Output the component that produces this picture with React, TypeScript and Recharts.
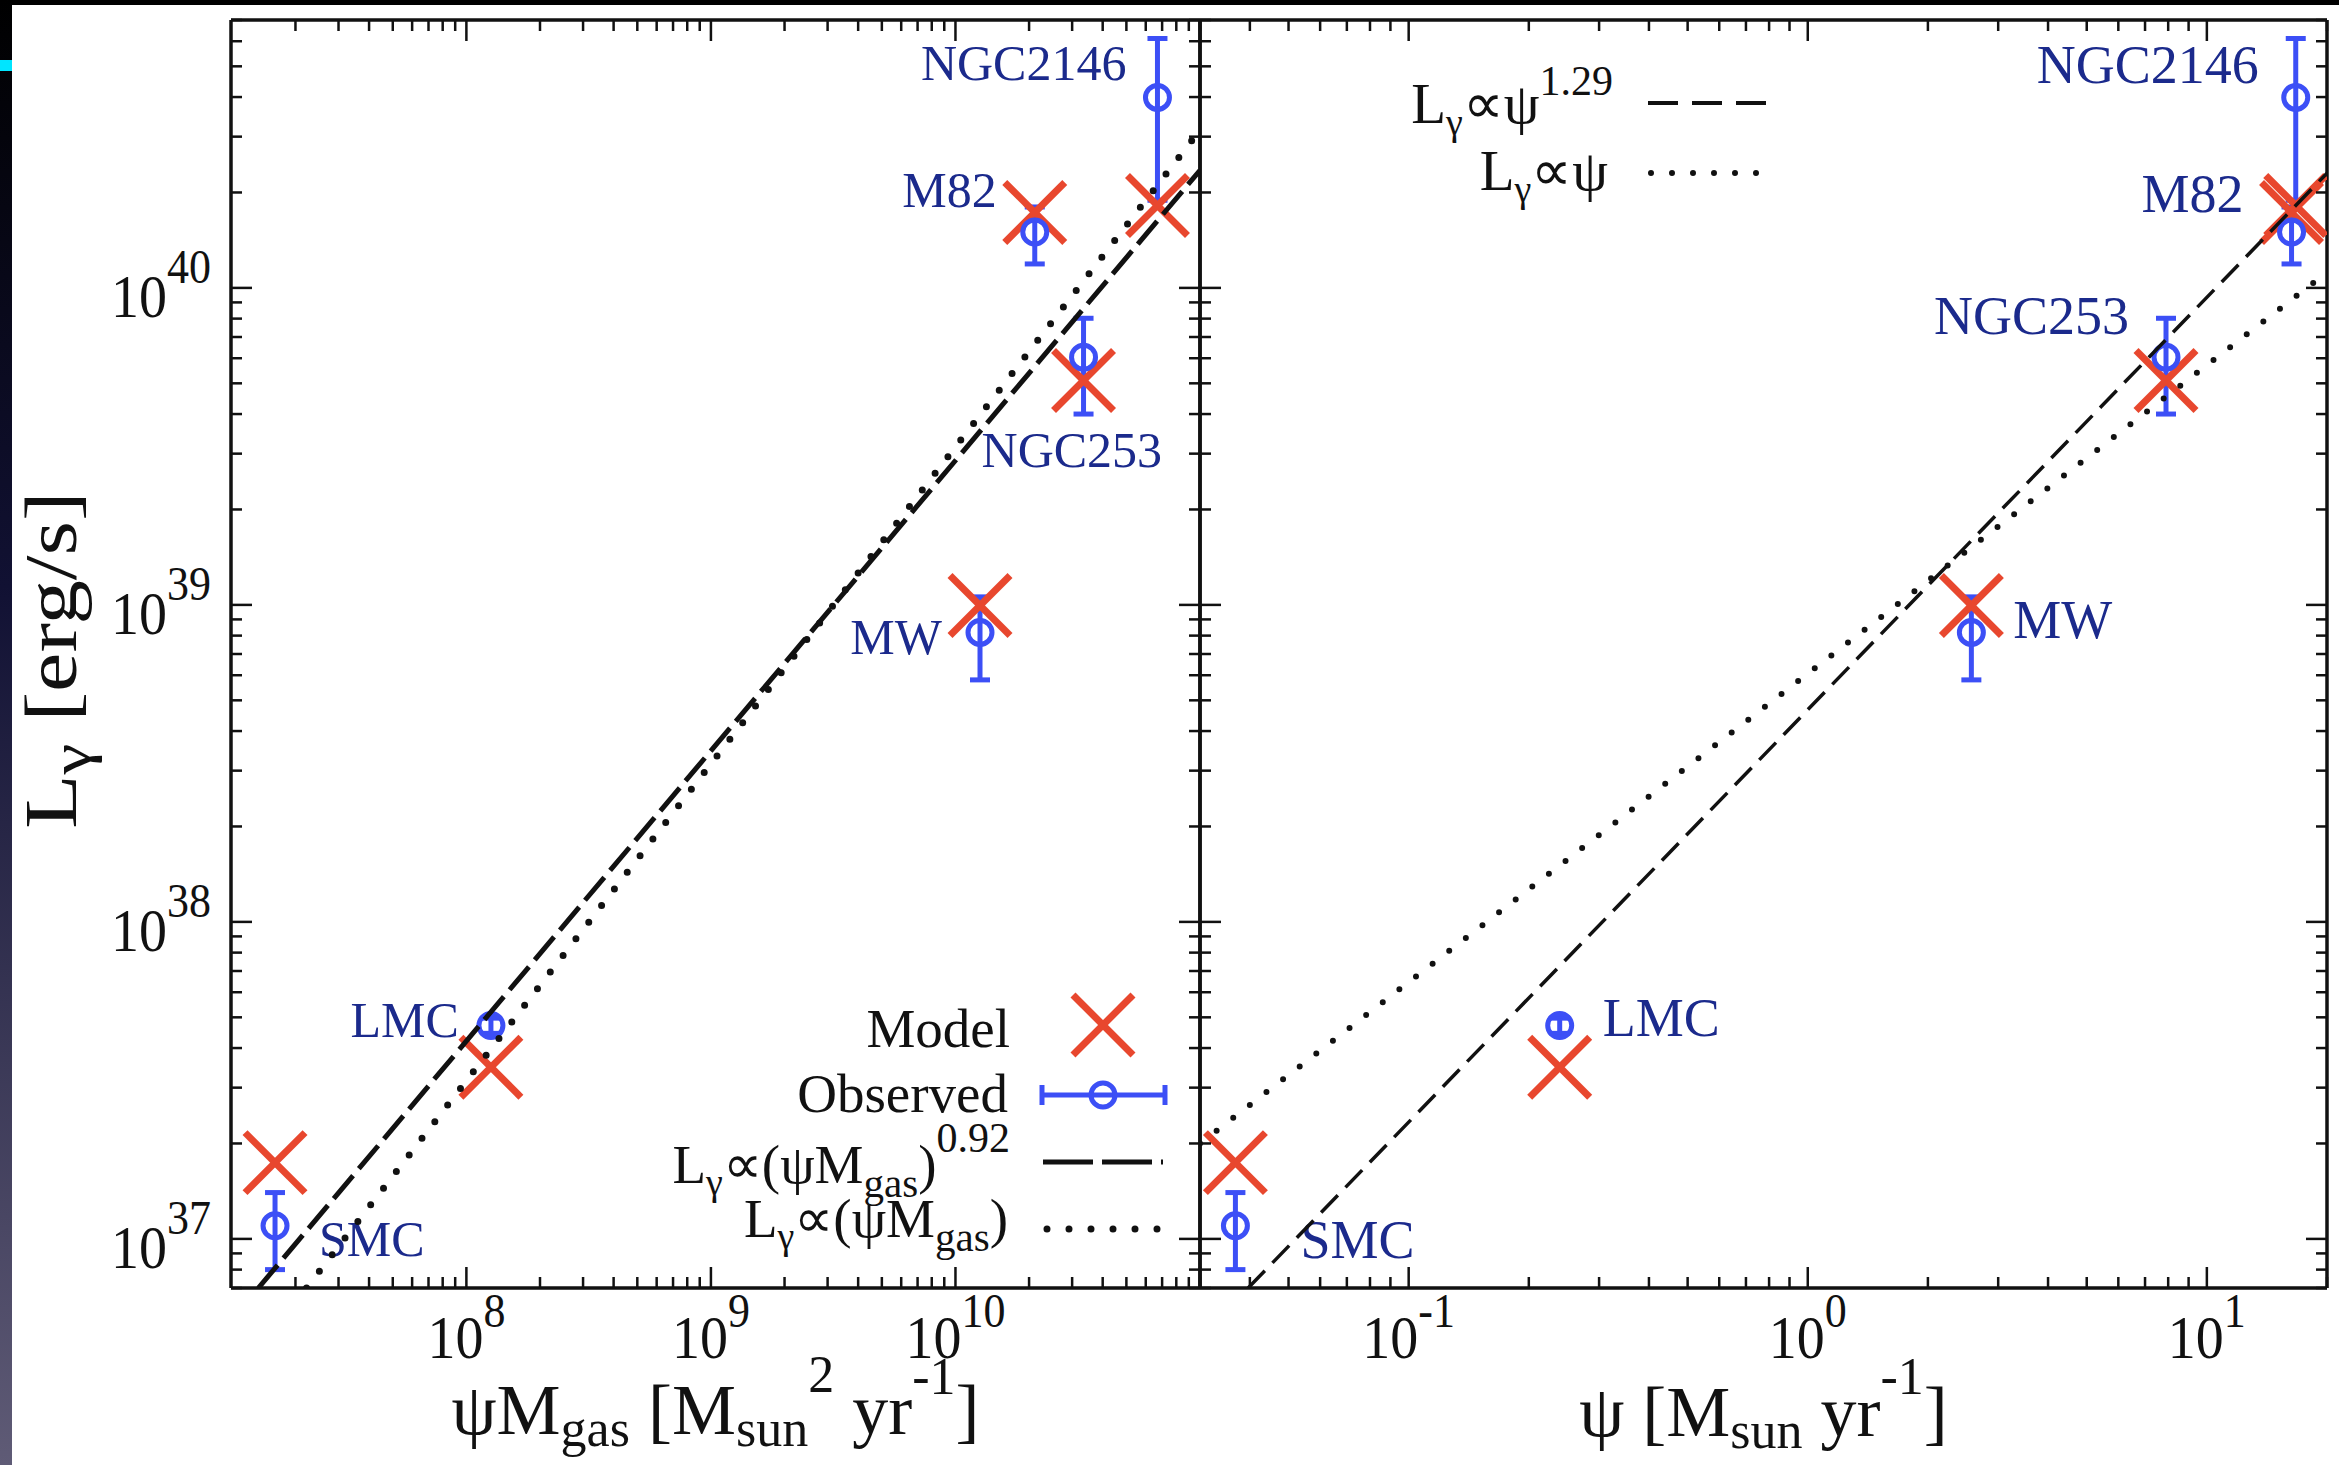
import React from 'react';
import { ComposedChart, Scatter, XAxis, YAxis, ErrorBar, Legend } from 'recharts';

const W = 2339;
const H = 1465;
const PLOT_TOP = 20;
const PLOT_BOTTOM = 1288;
const SERIF = '"Liberation Serif", "Times New Roman", Times, serif';
const RED = '#e8472e';
const BLUE = '#3c4ff6';
const NAVY = '#1b2a8c';
const INK = '#111';

// galaxies in the sample
const galaxies = ['SMC', 'LMC', 'MW', 'NGC253', 'M82', 'NGC2146'];
// psi * M_gas [Msun^2 yr^-1]
const psiMgas = [1.65e7, 1.26e8, 1.26e10, 3.34e10, 2.11e10, 6.7e10];
// psi [Msun yr^-1]
const psi = [0.0368, 0.239, 2.57, 7.9, 16.3, 16.7];
// observed gamma-ray luminosity [erg/s] and the ends of its error bar
const lObs = [1.1e37, 4.71e37, 8.19e38, 6.04e39, 1.5e40, 3.99e40];
const lObsLow = [8.0e36, 4.45e37, 5.8e38, 4.0e39, 1.19e40, 1.89e40];
const lObsHigh = [1.4e37, 4.97e37, 1.06e39, 8.02e39, 1.8e40, 6.12e40];
// model luminosity [erg/s]
const lModel = [1.74e37, 3.48e37, 9.96e38, 5.1e39, 1.73e40, 1.82e40];

// ends of the power-law lines
const gasFitX = [1.41e7, 1e11]; // L ~ (psi Mgas)^0.92
const gasFitY = [7e36, 2.35e40];
const gasLinX = [2.22e7, 1e11]; // L ~ psi Mgas
const gasLinY = [7e36, 3.15e40];
const sfrFitX = [0.0396, 20]; // L ~ psi^1.29
const sfrFitY = [7e36, 2.3e40];
const sfrLinX = [0.03, 20]; // L ~ psi
const sfrLinY = [2.0e37, 1.12e40];

const lumDomain = [7e36, 7e40];
const gasDomain = [1.09e7, 1e11];
const sfrDomain = [0.03, 20];

// where each galaxy name sits next to its observed point
const placeGas: Record<string, [number, number, string]> = {
  SMC: [44, 30, 'start'],
  LMC: [-32, 11, 'end'],
  MW: [-38, 22, 'end'],
  NGC253: [-102, 110, 'start'],
  M82: [-38, -25, 'end'],
  NGC2146: [-31, -17, 'end'],
};
const placeSfr: Record<string, [number, number, string]> = {
  SMC: [65, 32, 'start'],
  LMC: [43, 10, 'start'],
  MW: [42, 6, 'start'],
  NGC253: [-37, -23, 'end'],
  M82: [-48, -20, 'end'],
  NGC2146: [-37, -14, 'end'],
};

const logTicks = ([lo, hi]: number[]) => {
  const out: number[] = [];
  for (let e = Math.floor(Math.log10(lo)); e <= Math.ceil(Math.log10(hi)); e++) {
    for (let m = 1; m <= 9; m++) {
      const v = m * Math.pow(10, e);
      if (v >= lo * 0.999 && v <= hi * 1.001) out.push(v);
    }
  }
  return out;
};
const expOf = (v: number) => Math.round(Math.log10(v));
const isMajor = (v: number) => Math.abs(v / Math.pow(10, expOf(v)) - 1) < 1e-6;

const makeTick = (side: string, labelled: number[] = []) => (p: any) => {
  const { x, y } = p;
  const v = p.payload.value;
  const len = isMajor(v) ? 21 : 11;
  const e = expOf(v);
  const d =
    side === 'bottom' ? [0, -len] : side === 'top' ? [0, len] : side === 'left' ? [len, 0] : [-len, 0];
  let label = null;
  if (isMajor(v) && labelled.includes(e)) {
    if (side === 'bottom') {
      label = (
        <text transform={`translate(${x},${y + 70}) scale(1,1.1)`} textAnchor="middle"
          fontFamily={SERIF} fontSize={56} fill={INK}>
          10<tspan dy={-28} fontSize={44}>{e}</tspan>
        </text>
      );
    } else {
      label = (
        <text transform={`translate(${x - 20},${y + 29}) scale(1,1.1)`} textAnchor="end"
          fontFamily={SERIF} fontSize={56} fill={INK}>
          10<tspan dy={-31} fontSize={44}>{e}</tspan>
        </text>
      );
    }
  }
  return (
    <g>
      <line x1={x} y1={y} x2={x + d[0]} y2={y + d[1]} stroke={INK} strokeWidth={2.5} />
      {label}
    </g>
  );
};

const Cross = ({ cx, cy }: any) => {
  const s = 30;
  return (
    <g stroke={RED} strokeWidth={7}>
      <line x1={cx - s} y1={cy - s} x2={cx + s} y2={cy + s} />
      <line x1={cx - s} y1={cy + s} x2={cx + s} y2={cy - s} />
    </g>
  );
};
const Ring = ({ cx, cy }: any) => (
  <circle cx={cx} cy={cy} r={12} fill="none" stroke={BLUE} strokeWidth={5} />
);
const noShape = () => <g />;
const nameShape = (place: Record<string, [number, number, string]>, size: number) => (p: any) => {
  const [dx, dy, anchor] = place[p.payload.name];
  return (
    <text x={p.cx + dx} y={p.cy + dy} textAnchor={anchor as any} fontFamily={SERIF}
      fontSize={size} fill={NAVY}>
      {p.payload.name}
    </text>
  );
};

const GasTitle = ({ vb }: any) => (
  <text x={vb.x + vb.width / 2} y={PLOT_BOTTOM + 146} textAnchor="middle" fontFamily={SERIF}
    fontSize={72} fill={INK}>
    ψM<tspan dy={12} fontSize={52}>gas</tspan>
    <tspan dy={-12}> [M</tspan>
    <tspan dy={12} fontSize={52}>sun</tspan>
    <tspan dy={-54} fontSize={52}>2</tspan>
    <tspan dy={42}> yr</tspan>
    <tspan dy={-40} fontSize={52}>-1</tspan>
    <tspan dy={40}>]</tspan>
  </text>
);
const SfrTitle = ({ vb }: any) => (
  <text x={vb.x + vb.width / 2} y={PLOT_BOTTOM + 148} textAnchor="middle" fontFamily={SERIF}
    fontSize={72} fill={INK}>
    ψ [M<tspan dy={12} fontSize={52}>sun</tspan>
    <tspan dy={-12}> yr</tspan>
    <tspan dy={-42} fontSize={52}>-1</tspan>
    <tspan dy={42}>]</tspan>
  </text>
);
const LumTitle = () => (
  <text transform={`translate(76,660) rotate(-90) scale(1.2,1)`}
    textAnchor="middle" fontFamily={SERIF} fontSize={74} fill={INK}>
    L<tspan dy={14} fontSize={58}>γ</tspan>
    <tspan dy={-14}> [erg/s]</tspan>
  </text>
);

const GasLegend = () => (
  <svg width={W} height={H} style={{ position: 'absolute', left: 0, top: 0, overflow: 'visible' }}>
    <g fontFamily={SERIF} fontSize={55} fill={INK} textAnchor="end">
      <text x={1010} y={1047}>Model</text>
      <text x={1008} y={1112}>Observed</text>
      <text x={1010} y={1183}>
        L<tspan dy={12} fontSize={38}>γ</tspan>
        <tspan dy={-12}>∝(ψM</tspan>
        <tspan dy={14} fontSize={41}>gas</tspan>
        <tspan dy={-14}>)</tspan>
        <tspan dy={-31} fontSize={42}>0.92</tspan>
      </text>
      <text x={1008} y={1237}>
        L<tspan dy={12} fontSize={38}>γ</tspan>
        <tspan dy={-12}>∝(ψM</tspan>
        <tspan dy={14} fontSize={41}>gas</tspan>
        <tspan dy={-14}>)</tspan>
      </text>
    </g>
    <Cross cx={1103} cy={1025} />
    <g stroke={BLUE} strokeWidth={5} fill="none">
      <line x1={1042} y1={1095} x2={1165} y2={1095} />
      <line x1={1042} y1={1085} x2={1042} y2={1105} />
      <line x1={1165} y1={1085} x2={1165} y2={1105} />
      <circle cx={1103} cy={1095} r={12} />
    </g>
    <line x1={1043} y1={1162} x2={1163} y2={1162} stroke={INK} strokeWidth={5} strokeDasharray="50 9" />
    <line x1={1047} y1={1229} x2={1160} y2={1229} stroke={INK} strokeWidth={7}
      strokeLinecap="round" strokeDasharray="0 22" />
  </svg>
);

const SfrLegend = () => (
  <svg width={W} height={H} style={{ position: 'absolute', left: 0, top: 0, overflow: 'visible' }}>
    <g fontFamily={SERIF} fontSize={57} fill={INK} textAnchor="end">
      <text x={1613} y={123}>
        L<tspan dy={12} fontSize={38}>γ</tspan>
        <tspan dy={-12}>∝ψ</tspan>
        <tspan dy={-28} fontSize={42}>1.29</tspan>
      </text>
      <text x={1608} y={190}>
        L<tspan dy={12} fontSize={38}>γ</tspan>
        <tspan dy={-12}>∝ψ</tspan>
      </text>
    </g>
    <line x1={1648} y1={103} x2={1766} y2={103} stroke={INK} strokeWidth={4} strokeDasharray="30 14" />
    <line x1={1651} y1={173} x2={1766} y2={173} stroke={INK} strokeWidth={6}
      strokeLinecap="round" strokeDasharray="0 21" />
  </svg>
);

type Fit = { xs: number[]; ys: number[]; dash: string; width: number; round?: boolean };

function Panel(props: {
  xs: number[];
  xDomain: number[];
  xLabels: number[];
  yLabels: number[];
  left: number;
  right: number;
  place: Record<string, [number, number, string]>;
  nameSize: number;
  fits: Fit[];
  Title: any;
  YTitle?: any;
  LegendArt: any;
}) {
  const { xs, xDomain, xLabels, yLabels, left, right, place, nameSize, fits, Title, YTitle, LegendArt } = props;
  // axes are 1px thick, so the margins give them that pixel back
  const margin = { top: PLOT_TOP - 1, bottom: H - PLOT_BOTTOM - 1, left: left - 1, right: W - right - 1 };
  const xTicks = logTicks(xDomain);
  const yTicks = logTicks(lumDomain);
  const frame = { stroke: INK, strokeWidth: 3.5 };
  const obs = galaxies.map((name, i) => ({
    name,
    x: xs[i],
    y: lObs[i],
    err: [lObs[i] - lObsLow[i], lObsHigh[i] - lObs[i]],
  }));
  const model = galaxies.map((name, i) => ({ name, x: xs[i], y: lModel[i] }));
  const axisCommon = { type: 'number' as const, scale: 'log' as const, allowDataOverflow: true, interval: 0 as const, tickSize: 0, tickMargin: 0, tickLine: false, axisLine: frame };

  return (
    <ComposedChart width={W} height={H} margin={margin}>
      <XAxis {...axisCommon} dataKey="x" domain={xDomain} ticks={xTicks} height={1}
        tick={makeTick('bottom', xLabels)}
        label={{ content: (p: any) => <Title vb={p.viewBox} /> }} />
      <XAxis {...axisCommon} xAxisId="top" orientation="top" dataKey="x" domain={xDomain}
        ticks={xTicks} height={1} tick={makeTick('top')} />
      <YAxis {...axisCommon} dataKey="y" domain={lumDomain} ticks={yTicks} width={1}
        tick={makeTick('left', yLabels)}
        label={YTitle ? { content: () => <YTitle /> } : undefined} />
      <YAxis {...axisCommon} yAxisId="right" orientation="right" dataKey="y" domain={lumDomain}
        ticks={yTicks} width={1} tick={makeTick('right')} />

      <Scatter data={model} shape={Cross} isAnimationActive={false} />
      <Scatter data={obs} shape={Ring} isAnimationActive={false}>
        <ErrorBar dataKey="err" direction="y" width={10} stroke={BLUE} strokeWidth={5}
          isAnimationActive={false} />
      </Scatter>
      <Scatter data={obs} shape={nameShape(place, nameSize)} isAnimationActive={false} />
      {fits.map((f, k) => (
        <Scatter key={k} data={f.xs.map((x, i) => ({ x, y: f.ys[i] }))} shape={noShape}
          isAnimationActive={false}
          line={{ stroke: INK, strokeWidth: f.width, strokeDasharray: f.dash, strokeLinecap: f.round ? 'round' : 'butt', fill: 'none' }} />
      ))}
      <Legend layout="horizontal" verticalAlign="middle" align="center"
        wrapperStyle={{ left: 0, top: 0, width: W, height: H, pointerEvents: 'none' }}
        content={() => <LegendArt />} />
    </ComposedChart>
  );
}

export default function App() {
  return (
    <div style={{ position: 'fixed', left: 0, top: 0, width: W, height: H, background: '#fff', overflow: 'hidden' }}>
      <div style={{ position: 'absolute', left: 0, top: 0, width: W, height: 5, background: '#000' }} />
      <div style={{ position: 'absolute', left: 0, top: 0, width: 12, height: H, background: 'linear-gradient(#000 0%, #111133 40%, #5f5b76 100%)' }} />
      <div style={{ position: 'absolute', left: 0, top: 60, width: 12, height: 11, background: '#00e5ff' }} />
      <div style={{ position: 'absolute', left: 0, top: 0 }}>
        <Panel xs={psiMgas} xDomain={gasDomain} xLabels={[8, 9, 10]} yLabels={[37, 38, 39, 40]}
          left={231} right={1200} place={placeGas} nameSize={50}
          fits={[
            { xs: gasFitX, ys: gasFitY, dash: '30 9', width: 5 },
            { xs: gasLinX, ys: gasLinY, dash: '0 21', width: 7, round: true },
          ]}
          Title={GasTitle} YTitle={LumTitle} LegendArt={GasLegend} />
      </div>
      <div style={{ position: 'absolute', left: 0, top: 0 }}>
        <Panel xs={psi} xDomain={sfrDomain} xLabels={[-1, 0, 1]} yLabels={[]}
          left={1200} right={2327} place={placeSfr} nameSize={54}
          fits={[
            { xs: sfrFitX, ys: sfrFitY, dash: '24 11', width: 3.5 },
            { xs: sfrLinX, ys: sfrLinY, dash: '0 21', width: 6, round: true },
          ]}
          Title={SfrTitle} LegendArt={SfrLegend} />
      </div>
    </div>
  );
}
